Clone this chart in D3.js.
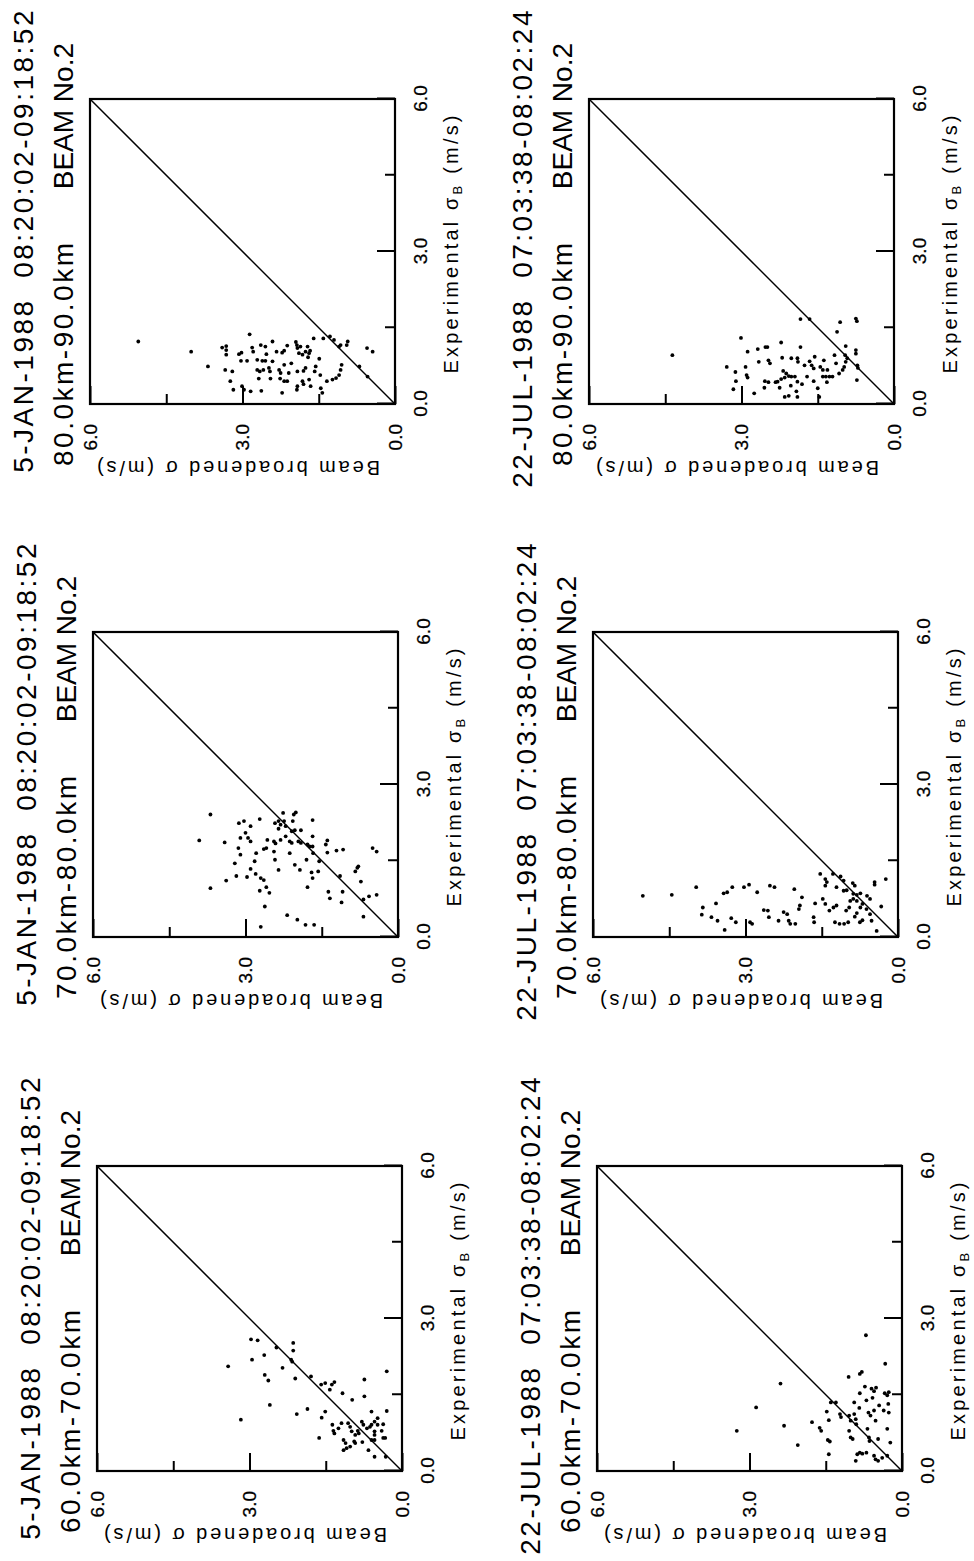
<!DOCTYPE html>
<html>
<head>
<meta charset="utf-8">
<script src="https://cdn.jsdelivr.net/npm/d3@7"></script>
<style>
body { margin: 0; background: #fff; }
text { font-family: "Liberation Sans", Arial, sans-serif; fill: #000; }
</style>
</head>
<body>
<svg id="page" width="974" height="1561"></svg>
<script>
var dates = ["5-JAN-1988", "22-JUL-1988"];
var times = ["08:20:02-09:18:52", "07:03:38-08:02:24"];
var ranges = ["60.0km-70.0km", "70.0km-80.0km", "80.0km-90.0km"];
var beamName = "BEAM No.2";
var majorTicks = [0, 3, 6];
var minorTicks = [1.5, 4.5];

// [experimental sigma_B, beam broadened sigma] (m/s)
var jan6070 = [[2.59,2.97],[2.57,2.84],[2.06,3.42],[2.19,2.95],[2.28,2.71],[1.89,2.70],[1.78,2.63],[1.30,2.60],[1.01,3.17],[2.43,2.47],[2.52,2.14],[2.37,2.14],[2.19,2.18],[2.15,2.16],[2.03,2.35],[1.82,2.10],[1.12,2.07],[1.22,1.86],[1.86,1.79],[1.70,1.59],[1.73,1.51],[1.70,1.38],[1.75,1.33],[1.60,1.42],[1.05,1.58],[1.17,1.51],[0.65,1.63],[1.53,1.17],[1.40,0.98],[1.80,0.74],[1.47,0.74],[1.96,0.30],[1.18,0.30],[1.17,0.60],[1.04,0.48],[0.92,0.37],[0.65,0.33],[0.61,0.54],[0.41,0.66],[0.28,0.54],[0.28,0.32],[0.91,1.37],[0.79,1.35],[0.74,1.33],[0.84,1.25],[0.94,1.19],[0.61,1.15],[0.55,1.11],[0.41,1.15],[0.45,1.09],[0.48,1.02],[0.94,1.06],[0.87,1.02],[0.78,0.99],[0.71,0.92],[0.79,0.87],[0.74,0.85],[0.58,0.94],[0.55,0.92],[0.97,0.79],[0.91,0.76],[0.57,0.78],[0.84,0.69],[0.87,0.63],[0.91,0.60],[0.97,0.54],[0.91,0.48],[0.78,0.54],[0.71,0.54],[0.61,0.60],[0.79,0.40],[0.65,0.37]];
var jan7080 = [[2.41,3.69],[1.90,3.91],[1.86,3.41],[0.96,3.69],[1.11,3.38],[2.24,3.13],[2.28,3.03],[2.18,2.90],[2.05,3.00],[1.95,3.10],[1.95,2.95],[1.88,2.90],[1.75,3.14],[1.62,3.10],[1.45,3.21],[1.20,3.18],[1.18,2.97],[1.34,2.90],[1.49,2.82],[1.65,2.79],[2.32,2.72],[1.24,2.80],[1.16,2.70],[1.12,2.64],[0.91,2.72],[0.98,2.59],[0.87,2.53],[0.60,2.62],[0.20,2.70],[1.91,2.57],[1.73,2.64],[1.75,2.59],[1.88,2.44],[1.84,2.41],[1.68,2.44],[1.52,2.42],[1.32,2.35],[2.24,2.42],[2.28,2.35],[2.21,2.31],[2.44,2.26],[2.28,2.24],[2.18,2.21],[2.13,2.35],[1.91,2.31],[1.98,2.21],[1.65,2.13],[0.43,2.18],[2.28,2.07],[2.41,2.05],[2.45,2.01],[2.08,2.09],[2.10,2.03],[2.10,1.91],[1.88,2.13],[1.85,2.09],[1.42,2.03],[1.32,1.93],[0.34,1.98],[0.24,1.82],[0.24,1.65],[1.88,1.96],[1.85,1.91],[1.52,1.80],[0.98,1.78],[1.82,1.78],[1.78,1.74],[1.78,1.68],[2.30,1.68],[1.98,1.68],[1.27,1.70],[1.16,1.68],[1.65,1.67],[1.29,1.57],[1.49,1.55],[1.82,1.42],[1.90,1.39],[1.66,1.39],[0.89,1.37],[0.76,1.34],[1.70,1.21],[1.72,1.08],[1.20,1.14],[0.89,1.09],[0.68,1.11],[1.29,0.84],[1.36,0.80],[1.39,0.78],[1.09,0.73],[0.74,0.68],[0.40,0.68],[0.80,0.57],[0.83,0.42],[1.75,0.50],[1.68,0.42]];
var jan8090 = [[1.23,5.05],[1.03,4.01],[0.74,3.68],[1.37,2.86],[1.11,3.40],[1.14,3.32],[1.06,3.32],[0.97,3.32],[0.67,3.34],[0.64,3.20],[0.45,3.24],[0.28,3.18],[0.35,3.01],[0.28,2.97],[0.25,2.84],[0.26,2.63],[0.98,3.07],[1.01,3.02],[0.85,3.03],[0.85,2.91],[1.11,2.81],[1.03,2.79],[1.16,2.64],[1.13,2.55],[0.87,2.71],[0.85,2.61],[0.85,2.55],[0.98,2.53],[1.23,2.41],[0.67,2.71],[0.64,2.66],[0.67,2.59],[0.71,2.48],[0.64,2.46],[0.50,2.68],[0.50,2.45],[1.03,2.33],[1.01,2.22],[1.05,2.18],[1.15,2.12],[0.67,2.28],[0.61,2.25],[0.84,2.41],[0.77,2.18],[0.50,2.26],[0.45,2.18],[0.22,2.22],[0.61,2.09],[0.45,2.12],[0.80,2.04],[1.22,1.95],[1.16,1.93],[1.10,1.92],[1.00,1.89],[0.97,1.82],[1.03,1.76],[1.00,1.69],[1.05,1.67],[1.13,1.86],[1.13,1.72],[0.64,1.92],[0.65,1.80],[0.71,1.76],[0.35,1.92],[0.28,1.93],[0.39,1.80],[0.45,1.82],[0.48,1.69],[0.35,1.66],[0.92,1.71],[1.29,1.60],[0.74,1.56],[0.64,1.58],[0.89,1.49],[0.57,1.47],[0.31,1.46],[0.22,1.43],[1.29,1.41],[1.33,1.28],[1.26,1.20],[0.45,1.34],[0.48,1.23],[0.51,1.16],[0.57,1.10],[0.67,1.07],[0.77,1.05],[1.13,1.10],[1.16,1.07],[1.23,0.93],[1.16,0.95],[1.10,0.55],[1.03,0.44],[0.74,0.70],[0.54,0.54]];
var jul6070 = [[0.79,3.25],[1.25,2.87],[1.72,2.39],[0.89,2.32],[0.51,2.05],[0.96,1.77],[0.85,1.62],[0.79,1.59],[1.17,1.48],[1.00,1.44],[0.61,1.46],[0.58,1.42],[0.33,1.44],[1.35,1.40],[1.35,1.30],[1.12,1.22],[1.06,1.20],[1.85,1.05],[1.09,1.04],[0.99,1.01],[0.79,1.04],[0.66,1.01],[0.63,0.97],[1.35,0.94],[1.12,0.94],[1.02,0.91],[0.92,0.90],[1.91,0.83],[1.95,0.79],[1.53,0.83],[0.33,0.88],[0.36,0.83],[0.34,0.78],[0.36,0.70],[0.20,0.91],[1.24,0.84],[2.67,0.71],[1.66,0.73],[1.39,0.70],[1.15,0.66],[1.09,0.62],[0.83,0.68],[0.66,0.65],[0.59,0.64],[1.62,0.60],[1.64,0.51],[1.44,0.58],[1.57,0.55],[1.19,0.55],[0.30,0.55],[0.23,0.52],[0.20,0.47],[0.99,0.52],[0.63,0.47],[1.29,0.45],[1.19,0.36],[1.53,0.34],[1.49,0.29],[2.11,0.33],[1.32,0.27],[1.15,0.26],[0.83,0.29],[0.30,0.29],[0.26,0.39],[0.56,0.23],[1.55,0.26]];
var jul7080 = [[0.81,5.02],[0.83,4.45],[0.98,3.97],[0.58,3.84],[0.44,3.86],[0.39,3.67],[0.66,3.58],[0.32,3.55],[0.14,3.41],[0.86,3.43],[0.88,3.36],[0.98,3.26],[0.37,3.28],[0.29,3.19],[0.98,3.03],[1.03,2.93],[0.29,2.91],[0.26,2.87],[0.88,2.77],[1.01,2.52],[0.98,2.43],[0.53,2.64],[0.52,2.56],[0.39,2.54],[0.32,2.35],[0.49,2.25],[0.45,2.18],[0.32,2.15],[0.26,2.12],[0.26,2.02],[0.94,2.04],[0.78,1.89],[0.62,1.93],[0.55,1.95],[0.39,1.66],[0.29,1.65],[0.66,1.63],[1.24,1.53],[1.14,1.43],[1.08,1.40],[1.01,1.43],[0.75,1.48],[0.65,1.43],[0.52,1.35],[0.58,1.27],[0.62,1.21],[1.24,1.28],[0.29,1.24],[0.26,1.15],[0.26,1.06],[0.29,0.98],[0.98,1.21],[1.19,1.13],[1.11,1.07],[0.91,1.07],[0.92,1.01],[0.52,1.02],[0.71,0.94],[0.75,0.88],[0.71,0.81],[1.06,0.89],[1.01,0.85],[0.85,0.88],[0.83,0.81],[0.86,0.74],[0.58,0.96],[0.40,0.85],[0.47,0.81],[0.58,0.74],[0.65,0.70],[0.29,0.75],[0.33,0.70],[0.55,0.62],[0.45,0.55],[0.32,0.52],[0.81,0.61],[0.75,0.55],[1.08,0.46],[1.03,0.46],[0.12,0.42],[0.60,0.33],[1.14,0.24]];
var jul8090 = [[0.96,4.36],[1.30,3.01],[0.73,3.29],[0.63,3.12],[0.73,2.92],[1.03,2.88],[0.57,2.90],[0.52,2.88],[0.45,3.11],[0.29,3.16],[0.21,2.75],[1.08,2.68],[1.12,2.53],[1.12,2.49],[0.83,2.66],[0.86,2.47],[0.80,2.44],[0.45,2.54],[0.43,2.47],[0.32,2.55],[0.43,2.33],[0.44,2.29],[1.21,2.22],[0.91,2.20],[0.65,2.18],[0.60,2.12],[0.55,2.07],[0.49,2.22],[0.52,2.15],[0.32,2.25],[0.14,2.15],[0.16,2.07],[0.90,2.02],[0.90,1.90],[0.83,1.89],[0.36,2.03],[0.54,2.02],[0.54,1.95],[0.44,1.90],[0.39,1.81],[0.25,1.92],[0.14,1.90],[1.12,1.84],[1.67,1.84],[1.67,1.66],[0.76,1.76],[0.54,1.71],[0.84,1.66],[0.76,1.62],[0.70,1.58],[0.93,1.56],[0.45,1.58],[0.31,1.50],[0.14,1.47],[0.73,1.45],[0.67,1.40],[0.86,1.38],[0.54,1.40],[0.54,1.34],[0.54,1.27],[0.54,1.21],[0.43,1.32],[0.67,1.31],[0.96,1.17],[0.80,1.14],[1.42,1.12],[1.61,1.06],[0.60,1.08],[0.67,1.01],[0.73,0.98],[0.83,0.95],[0.90,0.92],[0.96,0.96],[1.14,0.95],[1.68,0.75],[1.63,0.73],[1.06,0.75],[0.99,0.75],[0.76,0.72],[0.71,0.71],[0.47,0.73]];

var panels = [[jan6070, jan7080, jan8090], [jul6070, jul7080, jul8090]];

var ctx = {
    pageW: 1561,
    box: 305,
    colX: [90, 624, 1157],
    rowY: [[97, 93, 90], [597, 593, 589]]
};

var svgEl = d3.select("#page");
svgEl.append("rect").attr("width", 974).attr("height", 1561).attr("fill", "#fff");

// the sheet is landscape, printed turned a quarter turn: draw landscape then rotate
var pageG = svgEl.append("g")
    .attr("transform", "translate(0," + ctx.pageW + ") rotate(-90)");

var x = d3.scaleLinear().domain([0, 6]).range([0, ctx.box]);
var y = d3.scaleLinear().domain([0, 6]).range([ctx.box, 0]);

var styleAxis = function(axG) {
    axG.select(".domain").remove();
    axG.attr("font-size", 19).attr("font-family", null);
    axG.selectAll("line").attr("stroke", "#000").attr("stroke-width", 2);
    axG.selectAll("text").attr("stroke", "#000").attr("stroke-width", 0.25);
};

var createPanel = function(data, row, col) {
    var b = ctx.box;
    var g = pageG.append("g")
        .attr("transform", "translate(" + ctx.colX[col] + "," + ctx.rowY[row][col] + ")");

    // two title lines
    g.append("text")
        .attr("x", b + 91).attr("y", -57)
        .attr("text-anchor", "end")
        .attr("font-size", 28).attr("letter-spacing", 2.5)
        .text(dates[row] + "\u00a0\u00a0" + times[row]);
    g.append("text")
        .attr("x", -62).attr("y", -17)
        .attr("font-size", 28).attr("letter-spacing", 2.5)
        .text(ranges[col]);
    g.append("text")
        .attr("x", b + 56).attr("y", -17)
        .attr("text-anchor", "end")
        .attr("font-size", 28)
        .text(beamName);

    g.append("rect")
        .attr("width", b).attr("height", b)
        .attr("fill", "none").attr("stroke", "#000").attr("stroke-width", 2.2);

    g.append("line")
        .attr("x1", x(0)).attr("y1", y(0))
        .attr("x2", x(6)).attr("y2", y(6))
        .attr("stroke", "#000").attr("stroke-width", 1.5);

    // x axis, ticks pointing in
    var xG = g.append("g").attr("transform", "translate(0," + b + ")");
    xG.call(d3.axisBottom(x).tickValues(majorTicks).tickSize(-18).tickPadding(19).tickFormat(d3.format(".1f")));
    styleAxis(xG);
    var xMinor = g.append("g").attr("transform", "translate(0," + b + ")");
    xMinor.call(d3.axisBottom(x).tickValues(minorTicks).tickSize(-10).tickFormat(""));
    styleAxis(xMinor);

    var yG = g.append("g");
    yG.call(d3.axisLeft(y).tickValues(majorTicks).tickSize(-18).tickPadding(20).tickFormat(d3.format(".1f")));
    styleAxis(yG);
    var yMinor = g.append("g");
    yMinor.call(d3.axisLeft(y).tickValues(minorTicks).tickSize(-10).tickFormat(""));
    styleAxis(yMinor);

    var xt = g.append("text")
        .attr("x", b / 2 + 7).attr("y", b + 63)
        .attr("text-anchor", "middle")
        .attr("font-size", 20)
        .attr("textLength", 258);
    xt.append("tspan").text("Experimental \u03c3");
    xt.append("tspan").attr("font-size", 13).attr("dy", 4).text("B");
    xt.append("tspan").attr("dy", -4).text("\u00a0(m/s)");

    g.append("text")
        .attr("transform", "translate(-57," + (b / 2 - 4) + ") rotate(-90)")
        .attr("text-anchor", "middle")
        .attr("font-size", 20)
        .attr("textLength", 283)
        .text("Beam broadened \u03c3 (m/s)");

    g.selectAll("circle")
        .data(data)
        .enter()
        .append("circle")
        .attr("cx", (d) => x(d[0]))
        .attr("cy", (d) => y(d[1]))
        .attr("r", 1.9)
        .attr("fill", "#000");
};

panels.forEach(function(rowData, r) {
    rowData.forEach(function(d, c) {
        createPanel(d, r, c);
    });
});
</script>
</body>
</html>
